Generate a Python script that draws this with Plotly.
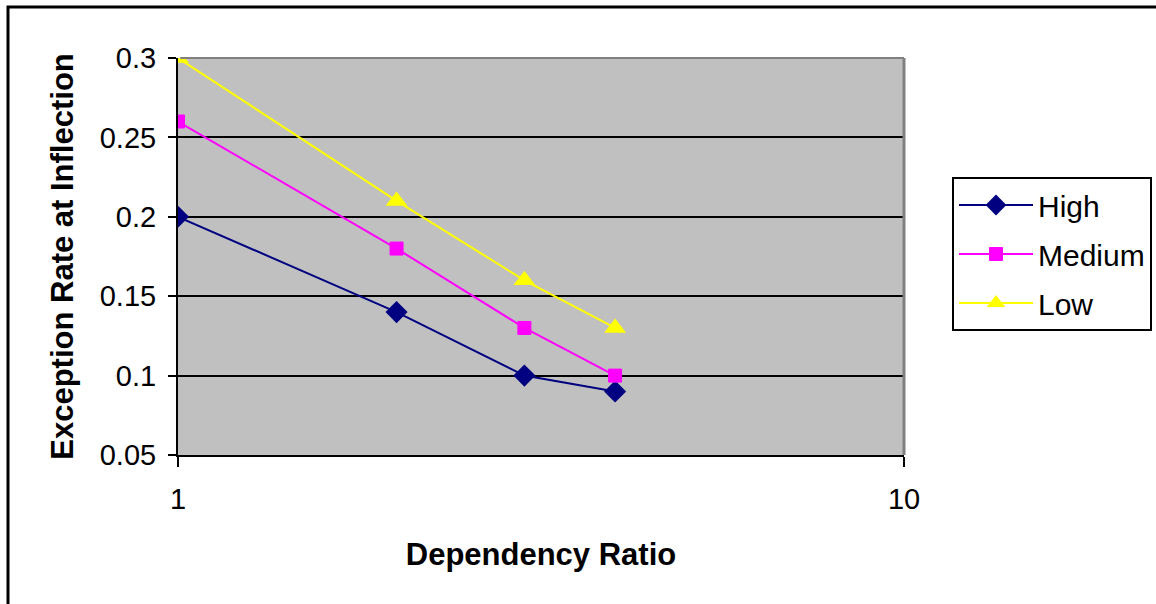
import plotly.graph_objects as go

x_ratio = [1, 2, 3, 4]
high = [0.20, 0.14, 0.10, 0.09]
medium = [0.26, 0.18, 0.13, 0.10]
low = [0.30, 0.21, 0.16, 0.13]
y_ticks = [0.05, 0.1, 0.15, 0.2, 0.25, 0.3]
y_tick_text = ["0.05", "0.1", "0.15", "0.2", "0.25", "0.3"]
x_ticks = [1, 10]

W, H = 1156, 604
L, R, T, B = 178, 252, 58, 149
pw, ph = W - L - R, H - T - B

FONT = "Liberation Sans, Arial, sans-serif"

fig = go.Figure()
fig.add_trace(go.Scatter(x=x_ratio, y=high, name="High", mode="lines+markers",
                         legendgroup="g1",
                         line=dict(color="#000080", width=2),
                         marker=dict(symbol="diamond", size=17, color="#000080")))
fig.add_trace(go.Scatter(x=x_ratio, y=medium, name="Medium", mode="lines+markers",
                         legendgroup="g2",
                         line=dict(color="#FF00FF", width=2),
                         marker=dict(symbol="square", size=13, color="#FF00FF",
                                     line=dict(color="#FF00FF", width=1))))
fig.add_trace(go.Scatter(x=x_ratio, y=low, name="Low", mode="lines+markers",
                         legendgroup="g3",
                         line=dict(color="#FFFF00", width=2),
                         marker=dict(symbol="triangle-up", size=19, color="#FFFF00")))

def px(xp):
    return (xp - L) / pw

def py(yp):
    return (H - B - yp) / ph

fig.update_layout(
    width=W, height=H,
    margin=dict(l=L, r=R, t=T, b=B, pad=0, autoexpand=False),
    paper_bgcolor="white",
    plot_bgcolor="#C0C0C0",
    font=dict(family=FONT, size=29, color="black"),
    showlegend=True,
    legend=dict(x=px(952), y=py(177), xanchor="left", yanchor="top",
                bordercolor="black", borderwidth=2, bgcolor="white",
                font=dict(size=30), tracegroupgap=7, itemwidth=74),
    xaxis=dict(type="log", range=[0, 1], tickvals=x_ticks, ticktext=["1", "10"],
               showgrid=False, zeroline=False, showline=True, linecolor="black",
               linewidth=2, ticks="outside", ticklen=10, tickwidth=2, tickcolor="black",
               ticklabelstandoff=7,
               title=dict(text="<b>Dependency Ratio</b>", font=dict(size=31), standoff=30)),
    yaxis=dict(range=[0.05, 0.3], tickvals=y_ticks, ticktext=y_tick_text,
               showgrid=True, gridcolor="black", gridwidth=2, zeroline=False,
               showline=True, linecolor="black", linewidth=2,
               ticks="outside", ticklen=8, tickwidth=2, tickcolor="black",
               ticklabelstandoff=6,
               title=dict(text="<b>Exception Rate at Inflection</b>", font=dict(size=31), standoff=17)),
    shapes=[
        dict(type="line", xref="paper", yref="paper", x0=0.003, x1=1, y0=1, y1=1,
             line=dict(color="#808080", width=2), layer="above"),
        dict(type="line", xref="paper", yref="paper", x0=1, x1=1, y0=0, y1=1,
             line=dict(color="#808080", width=3), layer="above"),
        dict(type="rect", xref="paper", yref="paper", x0=px(8), x1=px(1250),
             y0=py(700), y1=py(7), line=dict(color="black", width=3), layer="above"),
    ],
)

fig.write_html("out.html")
